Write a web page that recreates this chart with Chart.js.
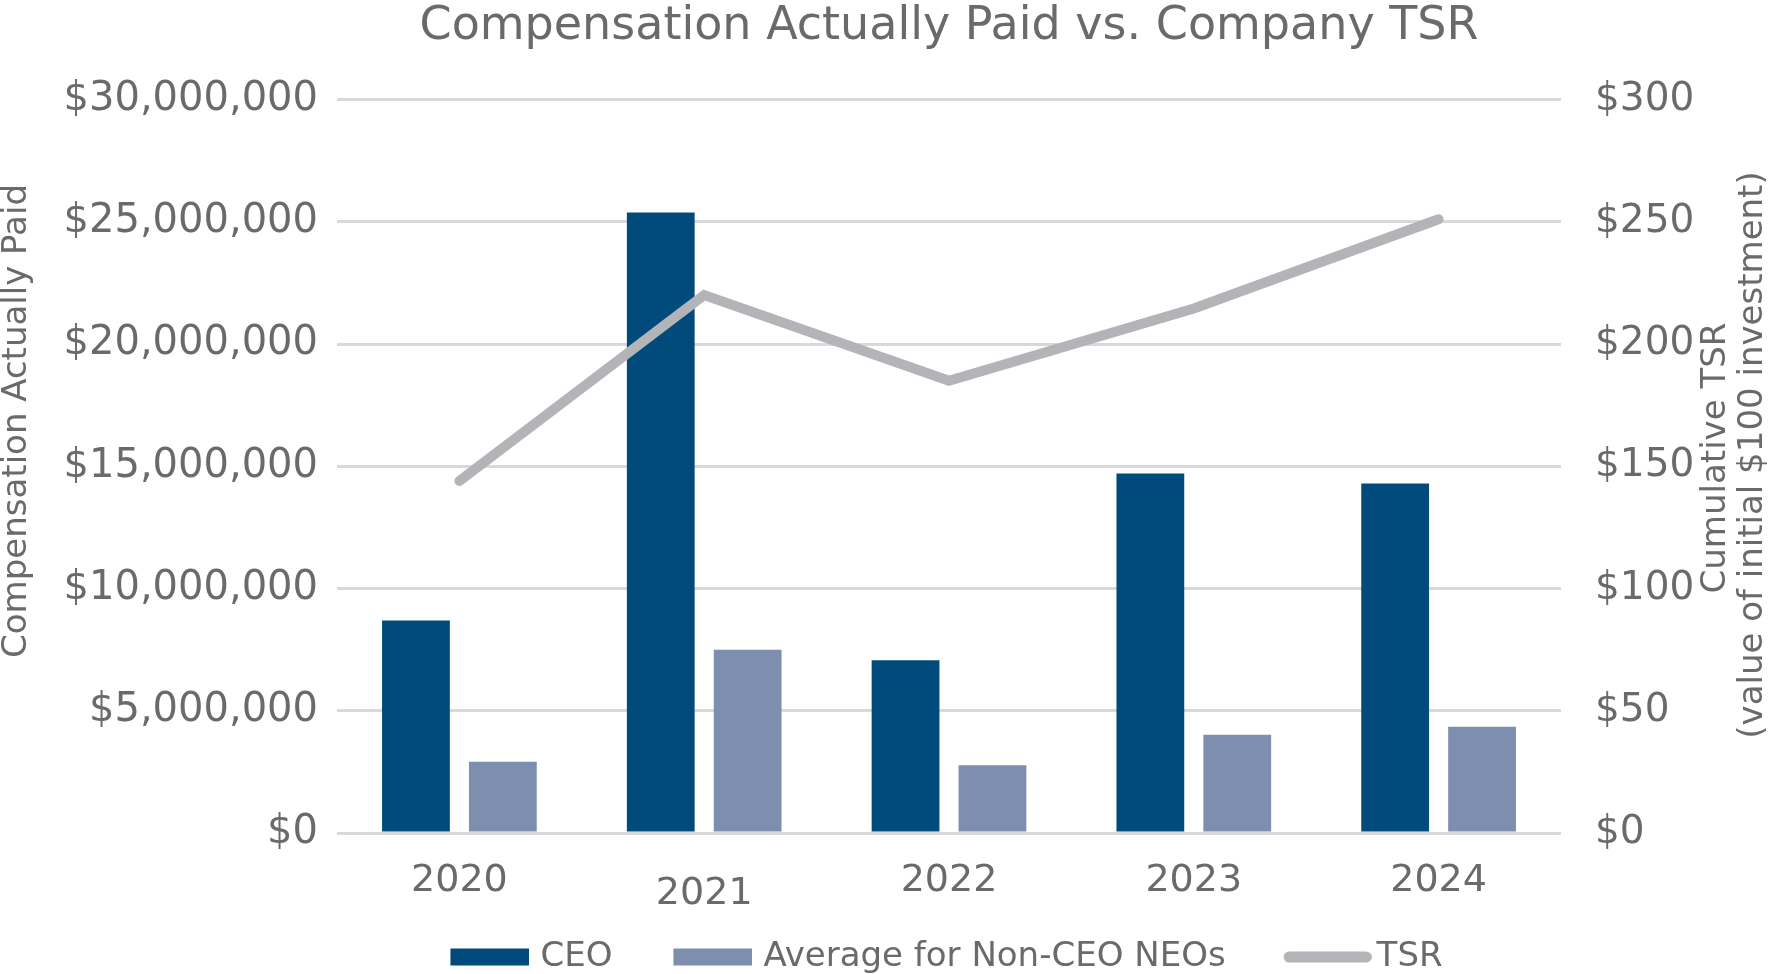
<!DOCTYPE html>
<html>
<head>
<meta charset="utf-8">
<script src="https://cdn.jsdelivr.net/npm/chart.js@4.4.1/dist/chart.umd.min.js"></script>
<style>
html,body{margin:0;padding:0;background:#ffffff;}
canvas{display:block;}
</style>
</head>
<body>
<canvas id="c" width="1774" height="974"></canvas>
<script>
// ---- data ----
const years = ['2020', '2021', '2022', '2023', '2024'];
const ceoCap = [8690000, 25380000, 7070000, 14700000, 14290000];
const neoCap = [2910000, 7490000, 2770000, 4020000, 4350000];
const tsrValues = [144, 220, 185, 214.5, 251];
const seriesNames = ['CEO', 'Average for Non-CEO NEOs', 'TSR'];
const leftAxisTitle = 'Compensation Actually Paid';
const rightAxisTitle = ['Cumulative TSR', '(value of initial $100 investment)'];
const chartTitle = 'Compensation Actually Paid vs. Company TSR';
const leftMax = 30000000, leftStep = 5000000;
const rightMax = 300, rightStep = 50;

// ---- styles ----
const FONT = '"DejaVu Sans", sans-serif';
const TEXT = '#6a6a6a';
const CEO_COLOR = '#004b7b';
const NEO_COLOR = '#7e8eaf';
const TSR_COLOR = '#b2b4b7';
const GRID = '#d9d9d9';
const xLabelDrop = [0, 1, 0, 0, 0]; // second label sits lower in the original

// legend marks: transparent canvas with the mark placed at its right end
function swatch(w, h, mw, mh, color, round) {
  const c = document.createElement('canvas');
  c.width = w; c.height = h;
  const g = c.getContext('2d');
  g.fillStyle = color;
  const x0 = w - mw, y0 = (h - mh) / 2;
  if (round) {
    const r = mh / 2;
    g.beginPath();
    g.moveTo(x0 + r, y0); g.lineTo(x0 + mw - r, y0);
    g.arc(x0 + mw - r, y0 + r, r, -Math.PI / 2, Math.PI / 2);
    g.lineTo(x0 + r, y0 + mh);
    g.arc(x0 + r, y0 + r, r, Math.PI / 2, Math.PI * 1.5);
    g.closePath(); g.fill();
  } else {
    g.fillRect(x0, y0, mw, mh);
  }
  return c;
}
const legendMarks = [
  swatch(121, 18, 79, 17, CEO_COLOR),
  swatch(121, 18, 79, 17, NEO_COLOR),
  swatch(133, 18, 88, 11, TSR_COLOR, true)
];

const axisTitles = {
  id: 'axisTitles',
  afterDraw(chart) {
    const ctx = chart.ctx;
    ctx.save();
    ctx.fillStyle = TEXT;
    ctx.font = '34px ' + FONT;
    ctx.textAlign = 'center';
    ctx.textBaseline = 'middle';
    const vt = (t, x, y) => { ctx.save(); ctx.translate(x, y); ctx.rotate(-Math.PI / 2); ctx.fillText(t, 0, 0); ctx.restore(); };
    vt(leftAxisTitle, 17, 421);
    vt(rightAxisTitle[0], 1716, 458);
    vt(rightAxisTitle[1], 1753, 455);
    ctx.restore();
  }
};

new Chart(document.getElementById('c'), {
  type: 'bar',
  data: {
    labels: years,
    datasets: [
      { label: seriesNames[0], data: ceoCap, backgroundColor: CEO_COLOR, yAxisID: 'y', order: 1,
        categoryPercentage: 0.71, barPercentage: 0.78 },
      { label: seriesNames[1], data: neoCap, backgroundColor: NEO_COLOR, yAxisID: 'y', order: 1,
        categoryPercentage: 0.71, barPercentage: 0.78 },
      { label: seriesNames[2], data: tsrValues, type: 'line', yAxisID: 'y1', order: 0,
        borderColor: TSR_COLOR, backgroundColor: TSR_COLOR, borderWidth: 10, pointRadius: 0,
        borderCapStyle: 'round', borderJoinStyle: 'miter', tension: 0, fill: false }
    ]
  },
  options: {
    responsive: false,
    animation: false,
    devicePixelRatio: 1,
    layout: { padding: { top: 0, left: 0, right: -83, bottom: -10 } },
    plugins: {
      tooltip: { enabled: false },
      title: {
        display: true, text: chartTitle, color: TEXT, fullSize: false,
        font: { family: FONT, size: 46, weight: 'normal', lineHeight: 1 },
        padding: { top: 4.5, bottom: 49 }
      },
      legend: {
        position: 'bottom', fullSize: true,
        labels: {
          usePointStyle: true, pointStyleWidth: 109, padding: 25,
          font: { family: FONT, size: 34 }, color: TEXT,
          generateLabels: (chart) => chart.data.datasets.map((ds, i) => ({
            text: ds.label, fillStyle: ds.backgroundColor, strokeStyle: ds.backgroundColor,
            lineWidth: 0, hidden: false, datasetIndex: i, fontColor: TEXT, pointStyle: legendMarks[i]
          }))
        }
      }
    },
    scales: {
      x: {
        grid: { display: false, drawTicks: false },
        border: { display: false },
        ticks: {
          color: TEXT, padding: 25, maxRotation: 0, autoSkip: false,
          font: (c) => ({ family: FONT, size: 38, lineHeight: xLabelDrop[c.index] ? 1.91 : 1.2 })
        },
        afterFit: (s) => { s.height = 82; }
      },
      y: {
        position: 'left', min: 0, max: leftMax,
        grid: { color: GRID, lineWidth: 3, drawTicks: false },
        border: { display: false },
        ticks: {
          stepSize: leftStep, color: TEXT, padding: 19,
          font: { family: FONT, size: 40 },
          callback: (v) => '$' + Number(v).toLocaleString('en-US')
        },
        afterFit: (s) => { s.width = 337; }
      },
      y1: {
        position: 'right', min: 0, max: rightMax,
        grid: { display: false, drawTicks: false },
        border: { display: false },
        ticks: {
          stepSize: rightStep, color: TEXT, padding: 34,
          font: { family: FONT, size: 39 },
          callback: (v) => '$' + v
        },
        afterFit: (s) => { s.width = 296; }
      }
    }
  },
  plugins: [axisTitles]
});
</script>
</body>
</html>
